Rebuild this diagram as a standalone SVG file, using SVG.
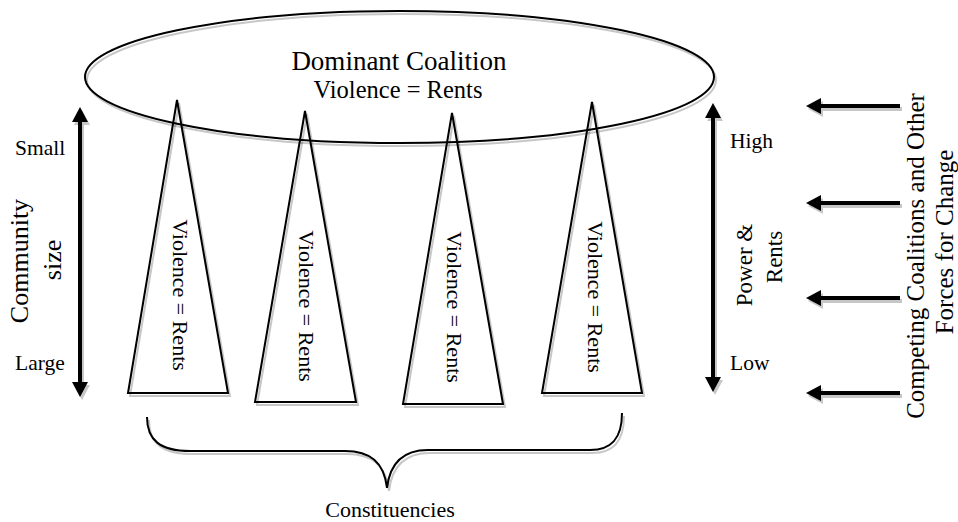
<svg xmlns="http://www.w3.org/2000/svg" width="958" height="522" viewBox="0 0 958 522">
  <style>
    text { font-family: "Liberation Serif", "Times New Roman", serif; fill: #000; }
    .outline { fill: none; stroke: #000; stroke-width: 2; }
    .shaft { fill: none; stroke: #000; stroke-width: 4; }
    .lbl { font-size: 21.5px; }
    .axis { font-size: 26px; text-anchor: middle; }
    .cone { font-size: 22px; text-anchor: middle; }
  </style>
  <defs>
    <filter id="shadow" x="-10%" y="-10%" width="120%" height="130%">
      <feDropShadow dx="2" dy="3" stdDeviation="0.6" flood-color="#000" flood-opacity="0.22"/>
    </filter>
    <marker id="head" viewBox="0 -8 15 16" refX="1" refY="0" markerWidth="15" markerHeight="16" markerUnits="userSpaceOnUse" orient="auto-start-reverse">
      <path d="M0,-8 L15,0 L0,8 z" fill="#000"/>
    </marker>
  </defs>

  <!-- top coalition -->
  <g id="dominant-coalition">
    <ellipse class="outline" cx="399.5" cy="77" rx="314.5" ry="66" filter="url(#shadow)"/>
    <text x="399" y="70" font-size="27" text-anchor="middle">Dominant Coalition</text>
    <text x="398" y="98" font-size="24.5" text-anchor="middle">Violence = Rents</text>
  </g>

  <!-- constituency cones -->
  <g id="cone-1">
    <polygon class="outline" points="177,100 228,393 128,393" filter="url(#shadow)"/>
    <text class="cone" transform="translate(173,295) rotate(90)">Violence = Rents</text>
  </g>
  <g id="cone-2">
    <polygon class="outline" points="305,111 356,402 255,402" filter="url(#shadow)"/>
    <text class="cone" transform="translate(299,306) rotate(90)">Violence = Rents</text>
  </g>
  <g id="cone-3">
    <polygon class="outline" points="452,113 503,404 403,404" filter="url(#shadow)"/>
    <text class="cone" transform="translate(447,307) rotate(90)">Violence = Rents</text>
  </g>
  <g id="cone-4">
    <polygon class="outline" points="592,102 642,393 542,393" filter="url(#shadow)"/>
    <text class="cone" transform="translate(588,297) rotate(90)">Violence = Rents</text>
  </g>

  <!-- left scale -->
  <g id="community-size">
    <text class="lbl" x="15" y="155">Small</text>
    <text class="lbl" x="15" y="370">Large</text>
    <text class="axis" transform="translate(28,261) rotate(-90)">Community</text>
    <text class="axis" transform="translate(61,260) rotate(-90)">size</text>
  </g>

  <!-- right scale -->
  <g id="power-rents">
    <text class="lbl" x="730" y="148">High</text>
    <text class="lbl" x="730" y="370">Low</text>
    <text class="axis" font-size="23" transform="translate(752,265) rotate(-90)" style="font-size:23px">Power &amp;</text>
    <text class="axis" transform="translate(782,257) rotate(-90)" style="font-size:23px">Rents</text>
  </g>

  <g id="forces-for-change">
    <text class="axis" transform="translate(924,256) rotate(-90)" style="font-size:25px">Competing Coalitions and Other</text>
    <text class="axis" transform="translate(953,242) rotate(-90)" style="font-size:25px">Forces for Change</text>
  </g>

  <g id="constituencies">
    <text x="390" y="517" font-size="22" text-anchor="middle">Constituencies</text>
  </g>

  <!-- connectors -->
  <g id="connectors" filter="url(#shadow)">
    <line class="shaft" x1="80" y1="121" x2="80" y2="383" marker-start="url(#head)" marker-end="url(#head)"/>
    <line class="shaft" x1="713" y1="117" x2="713" y2="378" marker-start="url(#head)" marker-end="url(#head)"/>
    <line class="shaft" x1="900" y1="106" x2="820" y2="106" marker-end="url(#head)"/>
    <line class="shaft" x1="900" y1="203" x2="820" y2="203" marker-end="url(#head)"/>
    <line class="shaft" x1="900" y1="298" x2="820" y2="298" marker-end="url(#head)"/>
    <line class="shaft" x1="900" y1="393" x2="820" y2="393" marker-end="url(#head)"/>
    <path class="outline" stroke-width="2.5" d="M147,417 C147,440 160,451 190,451 L345,451 C370,451 384,462 387,488 C390,462 404,450 428,450 L590,450 C612,450 622,438 622,413"/>
  </g>
</svg>
